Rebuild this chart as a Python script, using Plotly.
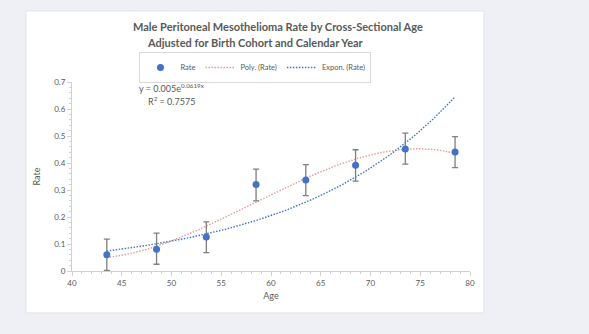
import numpy as np
import plotly.graph_objects as go

ages = [43.5, 48.5, 53.5, 58.5, 63.5, 68.5, 73.5, 78.5]
rate = [0.060, 0.081, 0.126, 0.320, 0.337, 0.392, 0.452, 0.441]
upper = [0.118, 0.140, 0.182, 0.377, 0.394, 0.449, 0.511, 0.498]
lower = [0.002, 0.025, 0.068, 0.260, 0.279, 0.333, 0.396, 0.383]

x = np.array(ages)
y = np.array(rate)
err_plus = [u - r for u, r in zip(upper, rate)]
err_minus = [r - l for r, l in zip(rate, lower)]

# trendlines fitted from the data (as a spreadsheet would)
xs = np.linspace(x.min(), x.max(), 120)
poly = np.polyfit(x, y, 3)
poly_y = np.polyval(poly, xs)
b, a = np.polyfit(x, np.log(y), 1)
exp_y = np.exp(a) * np.exp(b * xs)

GRAY = "#595959"
FONT = "Lato"

fig = go.Figure()
fig.add_trace(go.Scatter(
    x=xs, y=poly_y, mode="lines", name="Poly. (Rate)", legendrank=2,
    line=dict(color="#e39a9a", width=1.4, dash="1.5px,1.5px"), hoverinfo="skip"))
fig.add_trace(go.Scatter(
    x=xs, y=exp_y, mode="lines", name="Expon. (Rate)", legendrank=3,
    line=dict(color="#4472c4", width=1.4, dash="1.5px,1.5px"), hoverinfo="skip"))
fig.add_trace(go.Scatter(
    x=ages, y=rate, mode="markers", name="Rate", legendrank=1,
    marker=dict(color="#4472c4", size=7),
    error_y=dict(type="data", symmetric=False, array=err_plus, arrayminus=err_minus,
                 color="#7f7f7f", thickness=1.3, width=3)))

fig.update_layout(
    width=589, height=334,
    margin=dict(l=72, r=119, t=82, b=63),
    paper_bgcolor="#eff0f6", plot_bgcolor="white",
    font=dict(family=FONT, color=GRAY),
    showlegend=True,
    legend=dict(orientation="h", x=0.461, xanchor="center", y=1.159, yanchor="top",
                bordercolor="#d9d9d9", borderwidth=1, bgcolor="white",
                font=dict(size=7.5, color=GRAY), traceorder="normal",
                itemwidth=30, tracegroupgap=0),
    shapes=[dict(type="rect", xref="paper", yref="paper",
                 x0=-0.1156, x1=1.035, y0=-0.222, y1=1.376,
                 fillcolor="white", line=dict(color="#e2e2e8", width=1), layer="below")],
)
fig.update_xaxes(range=[40, 80], dtick=5, tick0=40, showgrid=False, zeroline=False,
                 showline=True, linecolor="#d0d0d0", linewidth=1,
                 ticks="outside", ticklen=4, tickcolor="#d0d0d0",
                 minor=dict(dtick=1, ticks="outside", ticklen=2, tickcolor="#d0d0d0"),
                 tickfont=dict(size=8, color=GRAY),
                 title=dict(text="Age", font=dict(size=9, color=GRAY), standoff=6))
fig.update_yaxes(range=[0, 0.7], dtick=0.1, showgrid=False, zeroline=False,
                 showline=True, linecolor="#d0d0d0", linewidth=1,
                 ticks="outside", ticklen=4, tickcolor="#d0d0d0",
                 minor=dict(dtick=0.02, ticks="outside", ticklen=2, tickcolor="#d0d0d0"),
                 tickfont=dict(size=8, color=GRAY), tickformat="~g",
                 title=dict(text="Rate", font=dict(size=9, color=GRAY), standoff=12))

fig.add_annotation(xref="paper", yref="paper", x=(278 - 72) / 398, y=(271 - 26) / 189,
                   text="<b>Male Peritoneal Mesothelioma Rate by Cross-Sectional Age</b>",
                   showarrow=False, font=dict(size=11, color=GRAY), xanchor="center", yanchor="middle")
fig.add_annotation(xref="paper", yref="paper", x=(255 - 72) / 398, y=(271 - 42) / 189,
                   text="<b>Adjusted for Birth Cohort and Calendar Year</b>",
                   showarrow=False, font=dict(size=11, color=GRAY), xanchor="center", yanchor="middle")
fig.add_annotation(xref="paper", yref="paper", x=(137 - 72) / 398, y=(271 - 88) / 189,
                   text="y = 0.005e<sup>0.0619x</sup>", showarrow=False, xanchor="left", yanchor="middle",
                   font=dict(size=9, color=GRAY))
fig.add_annotation(xref="paper", yref="paper", x=(146 - 72) / 398, y=(271 - 101) / 189,
                   text="R<sup>2</sup> = 0.7575", showarrow=False, xanchor="left", yanchor="middle",
                   font=dict(size=9, color=GRAY))

fig.write_html("out.html")
